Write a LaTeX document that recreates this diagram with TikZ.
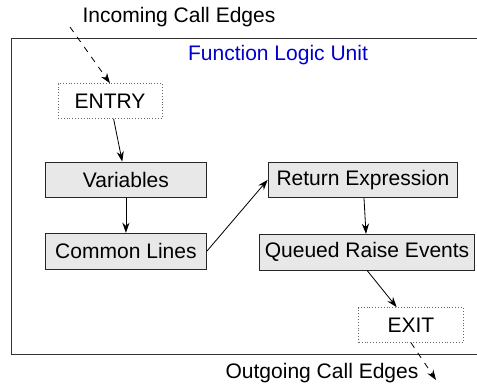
\documentclass[tikz,border=0pt]{standalone}
\usepackage{fontspec}
\setmainfont{Liberation Sans}
\usepackage{tikz}
\usetikzlibrary{positioning, arrows.meta}

\begin{document}
\begin{tikzpicture}[
  x=0.49pt, y=-0.49pt,
  font=\fontsize{10.3}{12}\selectfont,
  partbox/.style={draw=black!85, fill=gray!18, minimum height=17.5pt,
              inner sep=2.5pt, align=center},
  portbox/.style={draw=black!60, densely dotted, fill=white,
              minimum width=51pt, minimum height=17pt, align=center},
  edgelabel/.style={inner sep=0pt},
  >={Stealth[length=5pt, width=3.5pt]}
]
  \useasboundingbox (0,0) rectangle (477,388);

  % Unit frame (runs past the right border)
  \draw[black!80] (480,38) -- (11,38) -- (11,354) -- (480,354);
  \node[edgelabel, text=blue!80!black] (title) at (278,55) {Function Logic Unit};

  % Left column
  \node[portbox] (entry) at (110,101) {ENTRY};
  \node[partbox, minimum width=78.5pt, below=21pt of entry, xshift=7.8pt] (vars)
    {Variables};
  \node[partbox, minimum width=79pt, below=17pt of vars] (common)
    {Common Lines};
  \draw[->] (entry) -- (vars);
  \draw[->] (vars) -- (common);

  % Right column
  \node[partbox, minimum width=93pt, right=30pt of vars] (ret)
    {Return Expression};
  \node[partbox, minimum width=104pt, below=17.5pt of ret, xshift=2pt] (queued)
    {Queued Raise Events};
  \node[portbox, below=18pt of queued, xshift=21.5pt] (exit) {EXIT};
  \draw[->] (common.east) -- (ret.west);
  \draw[->] (ret) -- (queued);
  \draw[->] (queued.south) -- ([xshift=-7pt]exit.north);

  % Call edges
  \node[edgelabel] (incoming) at (179,17) {Incoming Call Edges};
  \node[edgelabel] (outgoing) at (322,373) {Outgoing Call Edges};
  \coordinate (callin) at (70,27);
  \coordinate (callout) at (436,380);
  \draw[->, dashed] (callin) -- (entry.north);
  \draw[->, dashed] (exit.south) -- (callout);
\end{tikzpicture}
\end{document}
